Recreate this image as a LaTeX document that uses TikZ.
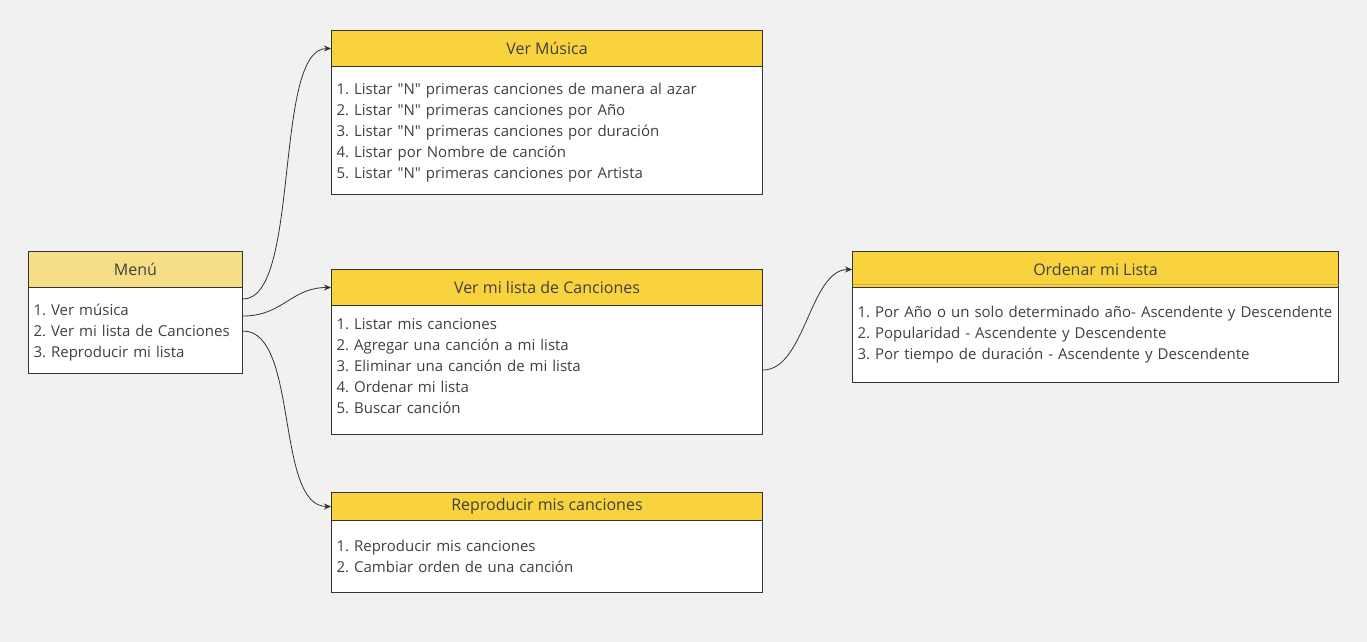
\documentclass[tikz,border=0pt]{standalone}
\usepackage{fontspec}
\setmainfont{Open Sans}[Ligatures=TeXOff]
\usepackage{xcolor}
\usepackage{tikz}
\usetikzlibrary{arrows.meta}
\frenchspacing

\definecolor{bgcol}{RGB}{241,241,241}
\definecolor{headcol}{RGB}{249,211,62}
\definecolor{menucol}{RGB}{246,222,134}
\definecolor{edgecol}{RGB}{51,51,51}
\definecolor{txtcol}{RGB}{64,64,64}

\begin{document}
\begin{tikzpicture}[
        x=1pt, y=-1pt,
        every node/.style={draw=edgecol, line width=1pt, anchor=north west, inner ysep=0pt, text=txtcol},
        head/.style={fill=headcol, minimum height=36pt, font=\fontsize{16}{18}\selectfont},
        body/.style={fill=white, align=left, inner xsep=5pt, font=\fontsize{15}{21}\selectfont},
        link/.style={draw=edgecol, line width=0.8pt, -{Stealth[length=7pt,width=6pt]}},
    ]
        \useasboundingbox[fill=bgcol] (0,0) rectangle (1367,642);
        \node[head, fill=menucol, minimum width=214pt] (menu) at (28,251) {Menú};
        \node[body, minimum width=214pt, text width=204pt, minimum height=86pt] (menubody) at (28,287) {\rule{0pt}{15.5pt}1. Ver música\\2. Ver mi lista de Canciones\\3. Reproducir mi lista};
        \node[head, minimum width=431pt] (musica) at (331,30) {Ver Música};
        \node[body, minimum width=431pt, text width=421pt, minimum height=128pt] (musicabody) at (331,66) {\rule{0pt}{15.5pt}1. Listar "N" primeras canciones de manera al azar\\2. Listar "N" primeras canciones por Año\\3. Listar "N" primeras canciones por duración\\4. Listar por Nombre de canción\\5. Listar "N" primeras canciones por Artista};
        \node[head, minimum width=431pt] (lista) at (331,269) {Ver mi lista de Canciones};
        \node[body, minimum width=431pt, text width=421pt, minimum height=129pt] (listabody) at (331,305) {1. Listar mis canciones\\2. Agregar una canción a mi lista\\3. Eliminar una canción de mi lista\\4. Ordenar mi lista\\5. Buscar canción\\[-12pt]\mbox{}};
        \node[head, minimum width=431pt, minimum height=28pt] (reproducir) at (331,492) {Reproducir mis canciones};
        \node[body, minimum width=431pt, text width=421pt, minimum height=72pt] (reproducirbody) at (331,520) {1. Reproducir mis canciones\\2. Cambiar orden de una canción};
        \node[head, minimum width=486pt] (ordenar) at (852,251) {Ordenar mi Lista};
        \node[body, minimum width=486pt, text width=476pt, minimum height=95pt] (ordenarbody) at (852,287) {1. Por Año o un solo determinado año- Ascendente y Descendente\\2. Popularidad - Ascendente y Descendente\\3. Por tiempo de duración - Ascendente y Descendente};
        \draw[line width=1pt, draw={rgb,255:red,214;green,176;blue,56}] ([yshift=4pt, xshift=0.5pt]ordenar.south west) -- ([yshift=4pt, xshift=-0.5pt]ordenar.south east);
        \draw[link] ([yshift=-12pt]menubody.north east) .. controls +(58,0) and +(-58,0) .. (musica.west);
        \draw[link] ([yshift=-29pt]menubody.north east) .. controls +(40,0) and +(-40,0) .. (lista.west);
        \draw[link] ([yshift=-44pt]menubody.north east) .. controls +(56,0) and +(-56,0) .. (reproducir.west);
        \draw[link] (listabody.east) .. controls +(42,0) and +(-42,0) .. (ordenar.west);
    \end{tikzpicture}
\end{document}
